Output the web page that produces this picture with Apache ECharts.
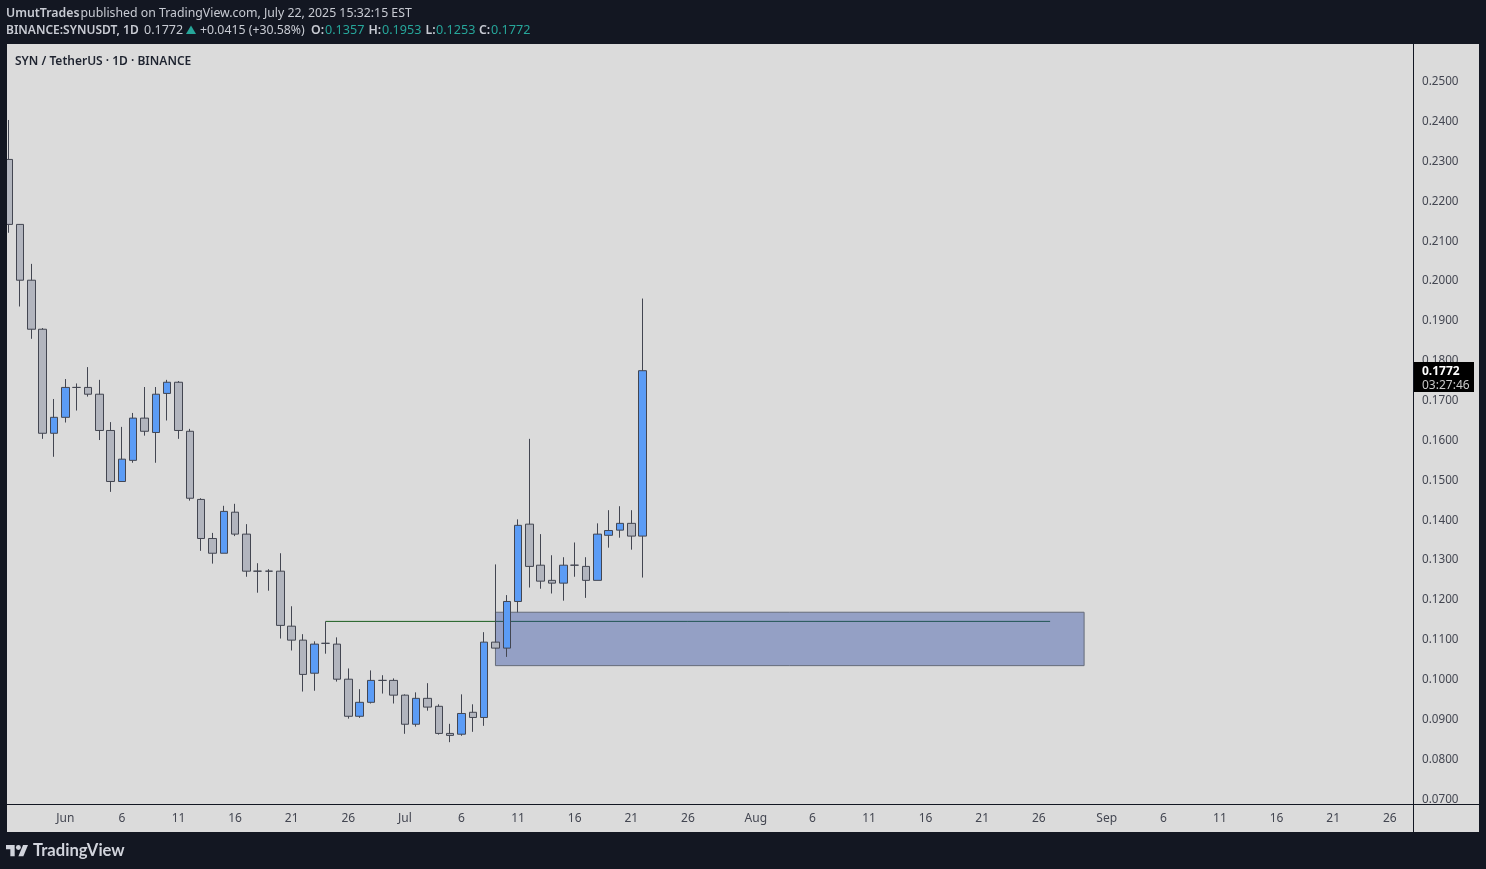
<!DOCTYPE html>
<html><head><meta charset="utf-8">
<style>html,body{margin:0;padding:0;background:#131722;overflow:hidden}#c{width:1486px;height:869px}</style>
<script src="https://cdn.jsdelivr.net/npm/echarts@6/dist/echarts.min.js"></script>
</head><body><div id="c"></div>
<script>
// daily candles from May 27, each [open, close, low, high]
const candleValues = [
 [0.2302,0.2139,0.2118,0.2401],[0.2139,0.1999,0.1933,0.2140],[0.1999,0.1876,0.1852,0.2040],[0.1876,0.1615,0.1601,0.1879],
 [0.1615,0.1655,0.1556,0.1701],[0.1655,0.1730,0.1642,0.1751],[0.1730,0.1730,0.1672,0.1740],[0.1730,0.1713,0.1707,0.1781],
 [0.1713,0.1622,0.1598,0.1749],[0.1622,0.1494,0.1468,0.1643],[0.1494,0.1550,0.1494,0.1631],[0.1547,0.1653,0.1541,0.1666],
 [0.1653,0.1620,0.1609,0.1731],[0.1617,0.1713,0.1541,0.1731],[0.1715,0.1743,0.1647,0.1749],[0.1743,0.1622,0.1601,0.1746],
 [0.1620,0.1452,0.1446,0.1626],[0.1449,0.1351,0.1320,0.1452],[0.1351,0.1314,0.1288,0.1365],[0.1314,0.1419,0.1314,0.1433],
 [0.1417,0.1362,0.1357,0.1438],[0.1362,0.1269,0.1255,0.1387],[0.1269,0.1269,0.1215,0.1289],[0.1269,0.1269,0.1220,0.1274],
 [0.1269,0.1133,0.1100,0.1314],[0.1131,0.1096,0.1070,0.1181],[0.1096,0.1010,0.0967,0.1111],[0.1013,0.1086,0.0969,0.1093],
 [0.1088,0.1088,0.1062,0.1143],[0.1086,0.0998,0.0992,0.1103],[0.0998,0.0905,0.0899,0.1025],[0.0905,0.0940,0.0901,0.0973],
 [0.0940,0.0995,0.0937,0.1020],[0.0995,0.0995,0.0962,0.1008],[0.0995,0.0958,0.0937,0.1000],[0.0958,0.0885,0.0861,0.0960],
 [0.0885,0.0950,0.0879,0.0965],[0.0950,0.0928,0.0919,0.0988],[0.0930,0.0862,0.0859,0.0935],[0.0862,0.0857,0.0840,0.0886],
 [0.0860,0.0912,0.0856,0.0960],[0.0915,0.0902,0.0866,0.0935],[0.0902,0.1091,0.0881,0.1116],[0.1091,0.1076,0.1075,0.1286],
 [0.1076,0.1193,0.1054,0.1209],[0.1193,0.1384,0.1166,0.1399],[0.1387,0.1281,0.1228,0.1601],[0.1284,0.1244,0.1225,0.1362],
 [0.1246,0.1239,0.1213,0.1309],[0.1239,0.1284,0.1195,0.1304],[0.1284,0.1284,0.1255,0.1341],[0.1281,0.1246,0.1202,0.1304],
 [0.1246,0.1362,0.1246,0.1389],[0.1359,0.1371,0.1328,0.1422],[0.1372,0.1389,0.1353,0.1432],[0.1389,0.1357,0.1323,0.1422],
 [0.1357,0.1772,0.1253,0.1953]
];
const monthNames = ['May','Jun','Jul','Aug','Sep','Oct'];
const monthDays = [31,30,31,31,30,31];
const dayCount = 124;
const categories = [];
for (let m = 0, d = 27; categories.length < dayCount; d++) {
  if (d > monthDays[m]) { m++; d = 1; }
  categories.push(monthNames[m] + ' ' + d);
}
const xTickLabels = {
 'Jun 1':'Jun','Jun 6':'6','Jun 11':'11','Jun 16':'16','Jun 21':'21','Jun 26':'26',
 'Jul 1':'Jul','Jul 6':'6','Jul 11':'11','Jul 16':'16','Jul 21':'21','Jul 26':'26',
 'Aug 1':'Aug','Aug 6':'6','Aug 11':'11','Aug 16':'16','Aug 21':'21','Aug 26':'26',
 'Sep 1':'Sep','Sep 6':'6','Sep 11':'11','Sep 16':'16','Sep 21':'21','Sep 26':'26'
};
const yTicks = [0.07,0.08,0.09,0.10,0.11,0.12,0.13,0.14,0.15,0.16,0.17,0.18,0.19,0.20,0.21,0.22,0.23,0.24,0.25];
const zone = {from:'Jul 9', to:'Aug 30', top:0.1166, bottom:0.1032};
const levelLine = [['Jun 24',0.1143],['Aug 27',0.1143]];

const DARK='#131722', PANEL='#dbdbdb', TXT='#434651', HEAD='#c8cbd3', TEAL='#26a69a';
const FONT='"Noto Sans", sans-serif';
const rect=(x,y,w,h,fill,z)=>({type:'rect',shape:{x,y,width:w,height:h},style:{fill},z,silent:true});
const txt=(x,y,text,fill,size,weight,z,font)=>({type:'text',x,y,z:z||20,silent:true,style:{text,fill,font:(weight||400)+' '+size+'px '+(font||FONT),textVerticalAlign:'middle'}});

const chart=echarts.init(document.getElementById('c'),null,{renderer:'canvas',width:1486,height:869});
chart.setOption({
 animation:false,
 backgroundColor:DARK,
 grid:{left:3.04,top:44,width:1403.68,height:760},
 xAxis:{type:'category',data:categories,boundaryGap:true,
   axisLine:{show:false},axisTick:{show:false},splitLine:{show:false},
   axisLabel:{color:TXT,fontSize:12,fontFamily:FONT,margin:8.5,hideOverlap:false,
     interval:(i,v)=>v in xTickLabels,formatter:v=>xTickLabels[v]||''}},
 yAxis:{type:'value',position:'right',offset:6.28,min:0.06849,max:0.25916,
   axisLine:{show:false},axisTick:{show:false},splitLine:{show:false},
   axisLabel:{color:TXT,fontSize:11.7,fontFamily:FONT,margin:9,verticalAlign:'top',lineHeight:2.5,customValues:yTicks,formatter:v=>v.toFixed(4)}},
 series:[
  {type:'line',name:'level',z:0,data:levelLine,symbol:'none',silent:true,lineStyle:{color:'#1b5e20',width:1}},
  {type:'candlestick',name:'SYNUSDT',z:2,barWidth:8,data:candleValues,
   itemStyle:{color:'#5b9cf6',color0:'#b2b5be',borderColor:'#434651',borderColor0:'#434651',borderWidth:1},
   markArea:{silent:true,z:1,itemStyle:{color:'rgba(42,72,165,0.4)',borderColor:'#666c7a',borderWidth:1},
     data:[[{xAxis:zone.from,yAxis:zone.top},{xAxis:zone.to,yAxis:zone.bottom}]]}}
 ],
 graphic:{elements:[
  rect(7,44,1406,760,PANEL,-5),
  rect(7,804,1472,28,PANEL,-5),
  rect(1413,44,66,760,PANEL,-5),
  rect(7,804,1472,1,DARK,-4),
  rect(1413,44,1,788,DARK,-4),
  rect(0,44,7,788,DARK,50),
  txt(15,61.5,'SYN / TetherUS · 1D · BINANCE','#1f2430',12,600),
  txt(6,13.5,'UmutTrades',HEAD,12.3,600),
  txt(80.5,13.5,'published on TradingView.com, July 22, 2025 15:32:15 EST',HEAD,12.3,400),
  txt(6,30.5,'BINANCE:SYNUSDT, 1D',HEAD,12,600),
  txt(144,30.5,'0.1772',HEAD,12.5,400),
  {type:'polygon',z:20,silent:true,shape:{points:[[186,34],[196,34],[191,25.5]]},style:{fill:TEAL}},
  txt(200,30.5,'+0.0415 (+30.58%)',HEAD,12.3,400),
  txt(311,30.5,'O:',HEAD,12.3,600), txt(325,30.5,'0.1357',TEAL,12.6,400),
  txt(368.5,30.5,'H:',HEAD,12.3,600), txt(382,30.5,'0.1953',TEAL,12.6,400),
  txt(425.5,30.5,'L:',HEAD,12.3,600), txt(436,30.5,'0.1253',TEAL,12.6,400),
  txt(479,30.5,'C:',HEAD,12.3,600), txt(491,30.5,'0.1772',TEAL,12.6,400),
  rect(1414,362,60,30,'#000000',60),
  txt(1422,371.5,'0.1772','#ffffff',12,700,61),
  txt(1422,385.5,'03:27:46','#c8c8c8',12,400,61),
  {type:'group',x:6,y:842.5,scaleX:0.62,scaleY:0.62,silent:true,children:[
    {type:'polygon',z:20,silent:true,shape:{points:[[14,22],[7,22],[7,11],[0,11],[0,4],[14,4]]},style:{fill:'#d1d4dc'}},
    {type:'polygon',z:20,silent:true,shape:{points:[[28,22],[20,22],[27.5,4],[35.5,4]]},style:{fill:'#d1d4dc'}},
    {type:'circle',z:20,silent:true,shape:{cx:20,cy:8,r:4},style:{fill:'#d1d4dc'}}
  ]},
  txt(33,851,'TradingView','#d1d4dc',16.6,700,20,'Lato, sans-serif')
 ]}
});
</script></body></html>
